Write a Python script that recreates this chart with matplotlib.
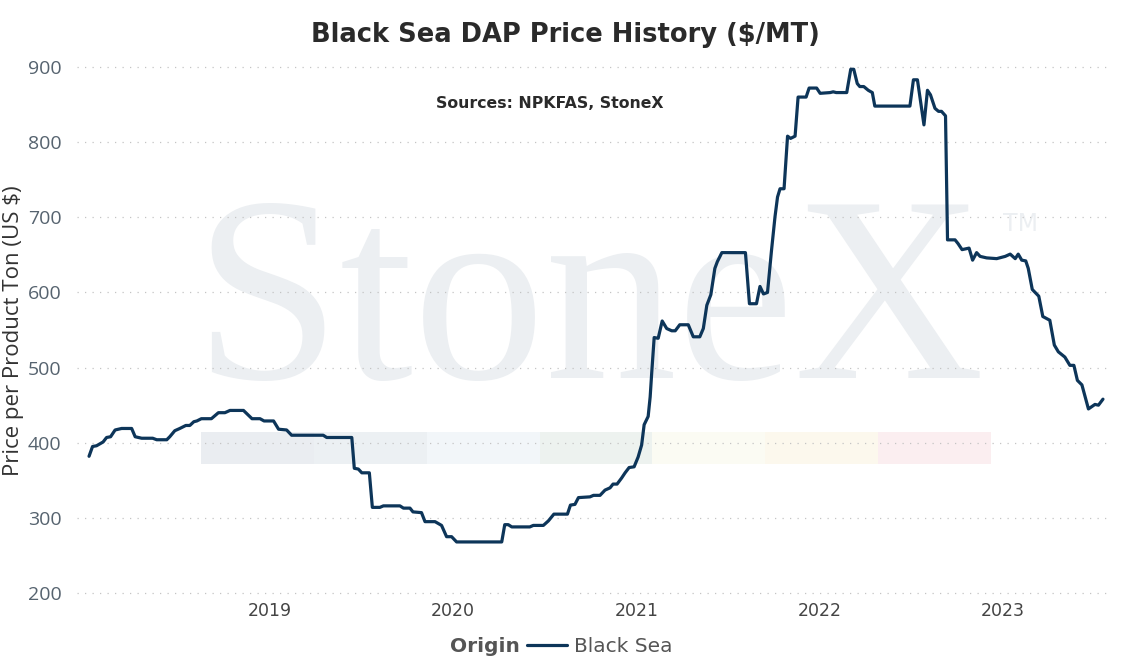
import matplotlib
matplotlib.use("Agg")
import matplotlib.pyplot as plt
from matplotlib.patches import Rectangle
import pandas as pd

dates = [
    "2018-01-05", "2018-01-12", "2018-01-20", "2018-02-02", "2018-02-09", "2018-02-17",
    "2018-02-26", "2018-03-11", "2018-03-31", "2018-04-07", "2018-04-20", "2018-05-12",
    "2018-05-20", "2018-06-09", "2018-06-15", "2018-06-25", "2018-07-05", "2018-07-17",
    "2018-07-25", "2018-08-02", "2018-08-08", "2018-08-17", "2018-09-06", "2018-09-20",
    "2018-10-03", "2018-10-13", "2018-11-09", "2018-11-26", "2018-12-12", "2018-12-20",
    "2019-01-08", "2019-01-18", "2019-02-03", "2019-02-13", "2019-04-17", "2019-04-24",
    "2019-06-13", "2019-06-18", "2019-06-26", "2019-07-03", "2019-07-18", "2019-07-24",
    "2019-08-08", "2019-08-15", "2019-09-17", "2019-09-24", "2019-10-07", "2019-10-13",
    "2019-10-30", "2019-11-06", "2019-11-26", "2019-12-09", "2019-12-19", "2019-12-29",
    "2020-01-08", "2020-04-07", "2020-04-13", "2020-04-20", "2020-04-27", "2020-06-02",
    "2020-06-09", "2020-06-29", "2020-07-09", "2020-07-20", "2020-08-16", "2020-08-22",
    "2020-08-31", "2020-09-07", "2020-09-30", "2020-10-07", "2020-10-20", "2020-10-30",
    "2020-11-09", "2020-11-15", "2020-11-23", "2020-12-02", "2020-12-09", "2020-12-17",
    "2020-12-27", "2021-01-04", "2021-01-11", "2021-01-16", "2021-01-24", "2021-01-28",
    "2021-01-31", "2021-02-05", "2021-02-13", "2021-02-21", "2021-03-02", "2021-03-12",
    "2021-03-19", "2021-03-28", "2021-04-14", "2021-04-24", "2021-05-07", "2021-05-14",
    "2021-05-21", "2021-05-29", "2021-06-06", "2021-06-11", "2021-06-20", "2021-08-06",
    "2021-08-14", "2021-08-28", "2021-09-04", "2021-09-11", "2021-09-19", "2021-09-27",
    "2021-10-04", "2021-10-09", "2021-10-14", "2021-10-22", "2021-10-29", "2021-11-04",
    "2021-11-13", "2021-11-19", "2021-12-05", "2021-12-11", "2021-12-26", "2022-01-02",
    "2022-01-22", "2022-01-28", "2022-02-03", "2022-02-24", "2022-03-04", "2022-03-10",
    "2022-03-17", "2022-03-22", "2022-03-30", "2022-04-08", "2022-04-16", "2022-04-21",
    "2022-06-30", "2022-07-07", "2022-07-15", "2022-07-28", "2022-08-04", "2022-08-10",
    "2022-08-19", "2022-08-26", "2022-09-01", "2022-09-09", "2022-09-13", "2022-09-28",
    "2022-10-04", "2022-10-12", "2022-10-26", "2022-11-02", "2022-11-10", "2022-11-17",
    "2022-11-30", "2022-12-20", "2023-01-06", "2023-01-16", "2023-01-26", "2023-02-01",
    "2023-02-08", "2023-02-16", "2023-02-21", "2023-03-01", "2023-03-14", "2023-03-22",
    "2023-04-05", "2023-04-14", "2023-04-22", "2023-05-05", "2023-05-15", "2023-05-23",
    "2023-05-30", "2023-06-08", "2023-06-21", "2023-07-04", "2023-07-11", "2023-07-20",
]

prices = [
    382, 395, 396, 401, 407, 408,
    417, 419, 419, 408, 406, 406,
    404, 404, 408, 416, 419, 423,
    423, 428, 429, 432, 432, 440,
    440, 443, 443, 432, 432, 429,
    429, 418, 417, 410, 410, 407,
    407, 366, 365, 360, 360, 314,
    314, 316, 316, 313, 313, 308,
    307, 295, 295, 290, 275, 275,
    268, 268, 291, 291, 288, 288,
    290, 290, 296, 305, 305, 317,
    318, 327, 328, 330, 330, 337,
    340, 345, 345, 353, 360, 367,
    368, 381, 397, 424, 435, 461,
    492, 540, 539, 562, 552, 549,
    549, 557, 557, 541, 541, 552,
    583, 597, 632, 641, 653, 653,
    585, 585, 608, 598, 600, 656,
    701, 727, 738, 738, 808, 805,
    808, 860, 860, 872, 872, 865,
    866, 867, 866, 866, 897, 897,
    878, 874, 874, 869, 866, 848,
    848, 883, 883, 823, 869, 863,
    845, 841, 841, 835, 670, 670,
    665, 657, 659, 643, 653, 648,
    646, 645, 648, 651, 645, 651,
    643, 642, 632, 604, 595, 568,
    563, 530, 521, 514, 503, 503,
    483, 477, 445, 451, 450, 458,
]

year_ticks = ["2019", "2020", "2021", "2022", "2023"]
y_ticks = [200, 300, 400, 500, 600, 700, 800, 900]
series_name = "Black Sea"
legend_title = "Origin"
band_colors = ["#eaedf1", "#ecf0f3", "#f2f6f9", "#edf2ef", "#fbfbf3", "#fcf8ed", "#fbeef0"]

plt.rcParams["font.family"] = ["DejaVu Sans"]

W, H = 1135, 665
fig = plt.figure(figsize=(W / 100, H / 100), dpi=100)
fig.patch.set_facecolor("white")

def fx(px):
    return px / W

def fy(py):
    return 1 - py / H

ax = fig.add_axes([fx(77), fy(596.8), fx(1112) - fx(77), fy(59.5) - fy(596.8)])
ax.set_facecolor("white")

x = pd.to_datetime(dates)
ax.set_xlim(pd.Timestamp("2017-12-12"), pd.Timestamp("2023-08-07"))
ax.set_ylim(195, 910)

# watermark (behind grid)
ax.text(fx(193), fy(378), "StoneX", transform=fig.transFigure,
        fontsize=190, family="Liberation Serif", color="#eceff2",
        ha="left", va="baseline", zorder=0)
ax.text(fx(1003), fy(231), "TM", transform=fig.transFigure,
        fontsize=17, color="#eceff2", ha="left", va="baseline", zorder=0)
bx0, bx1 = 201, 991
bw = (bx1 - bx0) / len(band_colors)
for i, c in enumerate(band_colors):
    ax.add_patch(Rectangle((fx(bx0 + i * bw), fy(464)), fx(bw), fy(432) - fy(464),
                           transform=fig.transFigure, facecolor=c, edgecolor="none",
                           zorder=0.5))

ax.set_yticks(y_ticks)
ax.grid(axis="y", color="#c4c4c4", linewidth=0.9, linestyle=(0, (1, 5)), zorder=1)
ax.grid(axis="x", visible=False)
ax.set_axisbelow(True)
ax.set_xticks([pd.Timestamp(f"{y}-01-01") for y in year_ticks])
ax.set_xticklabels(year_ticks)
ax.tick_params(axis="x", length=0, pad=4, labelsize=12.5, labelcolor="#444444")
ax.tick_params(axis="y", length=0, pad=11, labelsize=14, labelcolor="#56636f")
for lab in ax.get_yticklabels():
    lab.set_family(["Open Sans", "DejaVu Sans"])
for s in ax.spines.values():
    s.set_visible(False)

line, = ax.plot(x, prices, color="#0d3559", linewidth=2.3, zorder=3,
                solid_joinstyle="round", solid_capstyle="round", label=series_name)

fig.text(fx(14), fy(331), "Price per Product Ton (US $)", rotation=90, fontsize=16,
         family=["Open Sans", "DejaVu Sans"], color="#333333", ha="center", va="center")

fig.text(fx(565), fy(35), "Black Sea DAP Price History ($/MT)", fontsize=18.5,
         fontweight="bold", color="#2a2a2a", ha="center", va="center")
fig.text(fx(550), fy(103), "Sources: NPKFAS, StoneX", fontsize=11.3,
         fontweight="bold", color="#2a2a2a", ha="center", va="center")

fig.text(fx(520), fy(647), legend_title, fontsize=14.5, fontweight="bold",
         color="#555555", ha="right", va="center")
leg = fig.legend(handles=[line], labels=[series_name], loc="center left",
                 bbox_to_anchor=(fx(527), fy(647)), frameon=False, fontsize=14.5,
                 handlelength=2.0, handletextpad=0.35, borderpad=0, borderaxespad=0)
for t in leg.get_texts():
    t.set_color("#555555")

fig.savefig("out.png", dpi=100)
